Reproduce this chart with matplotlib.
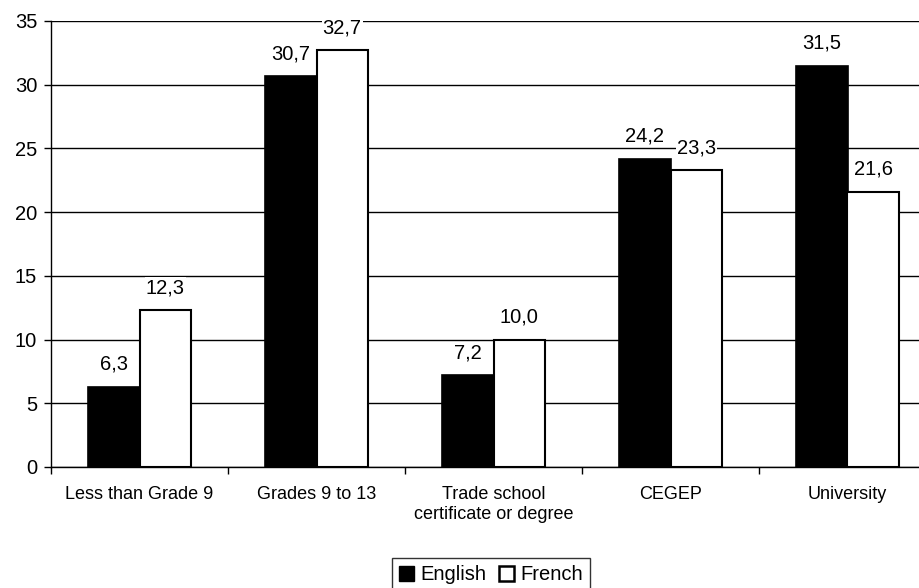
import matplotlib
matplotlib.use("Agg")
import matplotlib.pyplot as plt
import numpy as np
from matplotlib.patches import Patch

categories = ["Less than Grade 9", "Grades 9 to 13", "Trade school\ncertificate or degree", "CEGEP", "University"]
english = [6.3, 30.7, 7.2, 24.2, 31.5]
french = [12.3, 32.7, 10.0, 23.3, 21.6]
series_names = ["English", "French"]

plt.rcParams['font.family'] = ['Liberation Sans', 'DejaVu Sans']

W, H = 920, 588
fig = plt.figure(figsize=(W/100, H/100), dpi=100)
left, right, top, bottom = 51, 936, 21, 467
ax = fig.add_axes([left/W, (H-bottom)/H, (right-left)/W, (bottom-top)/H])

x = np.arange(len(categories))
bw = 0.29
ax.bar(x - bw/2, english, bw, color='black', edgecolor='black', linewidth=1.2, zorder=3)
ax.bar(x + bw/2, french, bw, color='white', edgecolor='black', linewidth=1.5, zorder=3)

def fmt(v):
    return f"{v:.1f}".replace('.', ',')

for xs, vals in ((x - bw/2, english), (x + bw/2, french)):
    for xi, v in zip(xs, vals):
        ax.annotate(fmt(v), (xi, v), xytext=(0, 9.2), textcoords='offset points',
                    ha='center', va='bottom', fontsize=14.5, zorder=4,
                    bbox=dict(boxstyle='square,pad=0.05', facecolor='white', edgecolor='none'))

ax.set_xlim(-0.5, len(categories) - 0.5)
ax.set_ylim(0, 35)
ax.set_yticks(np.arange(0, 36, 5))
ax.tick_params(axis='y', labelsize=14.5, length=5, width=1, direction='out', pad=5)
ax.set_xticks(x)
ax.set_xticklabels(categories, fontsize=13)
ax.tick_params(axis='x', length=0, pad=14)
ax.set_xticks(np.arange(-0.5, len(categories) + 0.5, 1), minor=True)
ax.tick_params(axis='x', which='minor', length=5, width=1, direction='out')

ax.yaxis.grid(True, color='black', linewidth=1)
ax.set_axisbelow(True)
for s in ['top', 'right']:
    ax.spines[s].set_visible(False)
ax.spines['left'].set_linewidth(1)
ax.spines['bottom'].set_linewidth(1)

handles = [Patch(facecolor='black', edgecolor='black'), Patch(facecolor='white', edgecolor='black', linewidth=1.8)]
leg = fig.legend(handles, series_names, loc='center', bbox_to_anchor=(491/W, (H-575)/H),
                 ncol=2, frameon=True, fancybox=False, edgecolor='black', fontsize=14.5,
                 handlelength=0.75, handleheight=0.75, handletextpad=0.3, columnspacing=0.65,
                 borderpad=0.35, borderaxespad=0)
leg.get_frame().set_linewidth(1)

fig.savefig("out.png", dpi=100)
